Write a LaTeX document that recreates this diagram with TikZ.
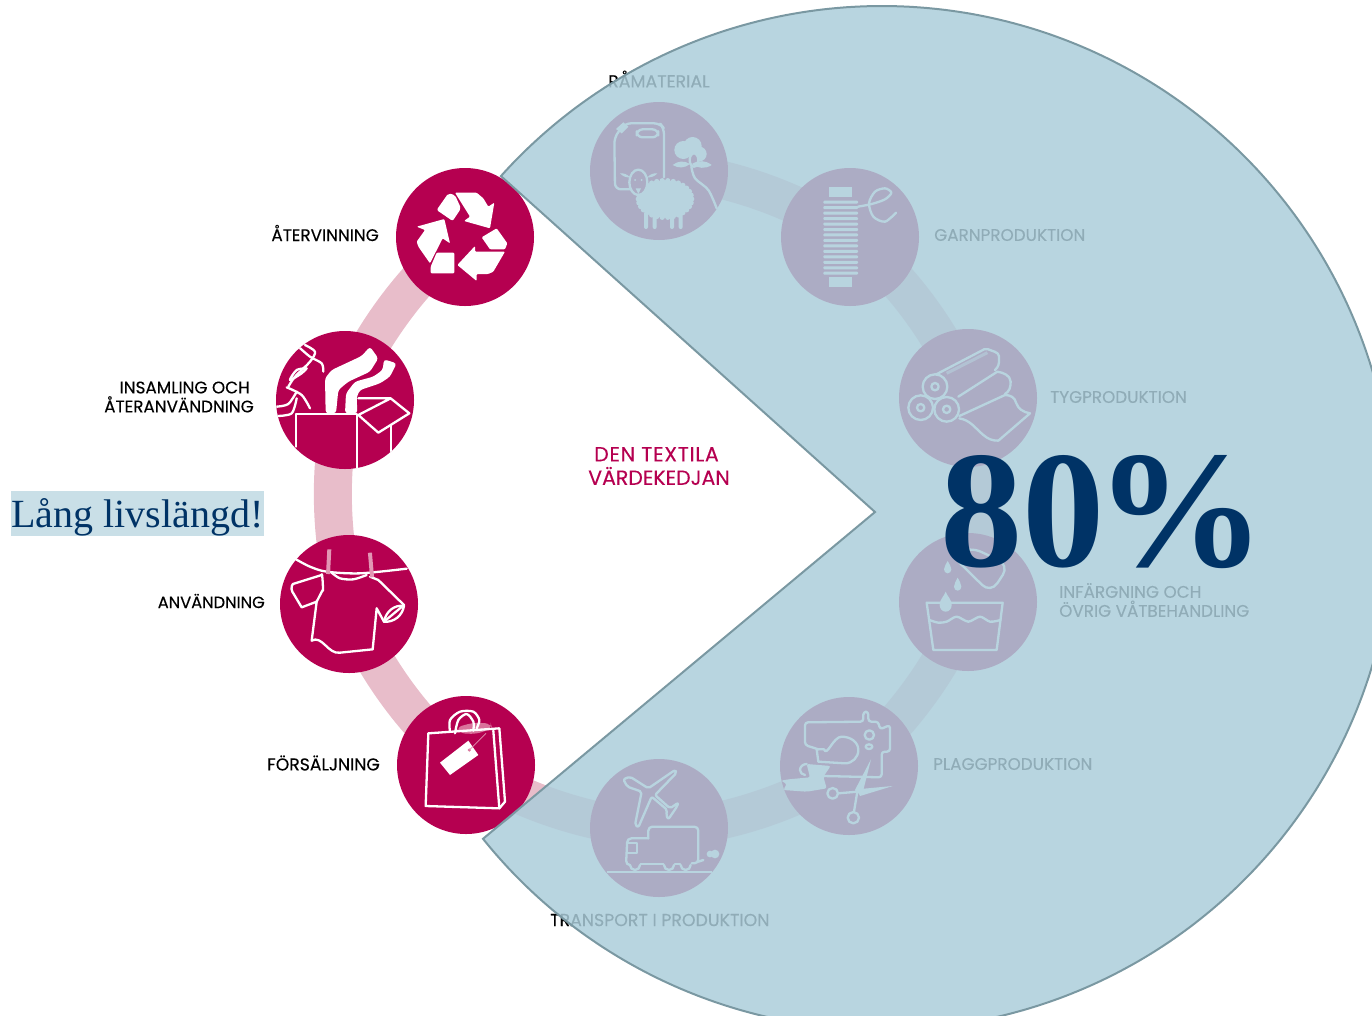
\documentclass[tikz,border=0pt]{standalone}
\usepackage{fontspec}
\setmainfont{Poppins}
\newfontfamily\lblfont{Poppins}[FakeBold=0.3]
\newfontfamily\timesfont{Liberation Serif}
\usetikzlibrary{backgrounds}
\definecolor{stagecol}{RGB}{181,0,80}
\definecolor{ringcol}{RGB}{232,189,202}
\definecolor{overlaycol}{RGB}{171,205,218}
\definecolor{edgecol}{RGB}{122,152,162}
\definecolor{navycol}{RGB}{0,51,102}
\definecolor{highlightcol}{RGB}{201,223,231}
\definecolor{pegcol}{RGB}{226,150,180}
\definecolor{tissuecol}{RGB}{217,115,155}
\tikzset{
  stage/.style={circle,fill=stagecol,minimum size=138pt,inner sep=0pt},
  ring/.style={draw=ringcol,line width=38pt,line cap=butt},
  lbl/.style={font=\lblfont\fontsize{16.8}{19}\selectfont,text=black,inner sep=0pt},
  iline/.style={draw=white,line width=2.3pt,line join=round,line cap=round},
  za/.style={shift={(260,150)},scale=0.33333},
  zb/.style={shift={(260,520)},scale=0.33333},
  zc/.style={shift={(570,60)},scale=0.33333},
  zd/.style={shift={(880,320)},scale=0.33333},
  ze/.style={shift={(570,690)},scale=0.33333},
}
\begin{document}
\begin{tikzpicture}[x=1pt,y=-1pt]
\useasboundingbox (0,0) rectangle (1372,1015);
\clip (0,0) rectangle (1372,1015);
% stages
\node[stage] (aterv) at (465,237) {};
\node[stage] (insam) at (345,400) {};
\node[stage] (anvand) at (349,604) {};
\node[stage] (forsal) at (466,765) {};
\node[stage] (transp) at (659,828) {};
\node[stage] (plagg) at (849,766) {};
\node[stage] (infarg) at (968,602) {};
\node[stage] (tyg) at (968,398) {};
\node[stage] (garn) at (850,237) {};
\node[stage] (ramat) at (659,171) {};
% ring
\begin{scope}[on background layer,looseness=.76]
\draw[ring] (aterv.center) to[bend right=18] (insam.center);
\draw[ring] (insam.center) to[bend right=18] (anvand.center);
\draw[ring] (anvand.center) to[bend right=18] (forsal.center);
\draw[ring] (forsal.center) to[bend right=18] (transp.center);
\draw[ring] (transp.center) to[bend right=18] (plagg.center);
\draw[ring] (plagg.center) to[bend right=18] (infarg.center);
\draw[ring] (infarg.center) to[bend right=18] (tyg.center);
\draw[ring] (tyg.center) to[bend right=18] (garn.center);
\draw[ring] (garn.center) to[bend right=18] (ramat.center);
\end{scope}
% recycling
\begin{scope}[za]
\fill[white,rounded corners=2pt] (565,130)--(585,135)--(603,175)--(578,213)--(530,180)--cycle;
\fill[white,rounded corners=1pt] (585,128)--(650,128)--(670,145)--(685,170)--(703,158)--(690,235)--(612,213)--(630,200)--cycle;
\fill[white,rounded corners=1pt] (470,230)--(553,207)--(570,280)--(548,265)--(510,340)--(475,290)--(470,275)--(495,240)--cycle;
\fill[white,rounded corners=1pt] (530,308)--(583,308)--(583,370)--(512,370)--(512,350)--cycle;
\fill[white,rounded corners=1pt] (710,235)--(742,280)--(735,298)--(690,298)--(665,262)--cycle;
\fill[white,rounded corners=1pt] (645,305)--(735,305)--(700,365)--(685,372)--(650,372)--(650,393)--(592,345)--(645,288)--cycle;
\end{scope}
% collection box
\begin{scope}
\clip (insam) circle (69);
\begin{scope}[za]
\draw[iline] plot[smooth] coordinates {(115,590) (150,620) (185,640) (190,665)};
\draw[iline] plot[smooth] coordinates {(135,585) (165,605) (150,635) (105,680) (85,710)};
\draw[iline] plot[smooth] coordinates {(140,655) (110,660) (90,690) (125,670) (140,655)};
\draw[iline] plot[smooth] coordinates {(50,770) (85,762) (110,725)};
\draw[iline] plot[smooth] coordinates {(80,712) (125,735) (150,775)};
\draw[iline] plot[smooth] coordinates {(52,798) (95,790) (110,745)};
\fill[white,rounded corners=3pt] (197,790)--(195,685)--(215,660)--(305,618)--(330,590)--(355,625)--(330,665)--(265,695)--(235,720)--(228,790)--cycle;
\fill[white,rounded corners=3pt] (255,790)--(258,730)--(285,695)--(340,680)--(368,660)--(372,628)--(410,640)--(390,680)--(360,700)--(300,720)--(290,740)--(292,790)--cycle;
\draw[iline] (108,890)--(108,793)--(290,793)--(290,960);
\draw[iline] (295,745)--(392,745)--(448,790)--(355,848)--(295,795)--(392,745);
\draw[iline] (392,825)--(392,910);
\end{scope}
\end{scope}
% shirt
\begin{scope}[zb]
\draw[iline] plot[smooth] coordinates {(108,118) (150,140) (200,155) (300,160) (440,146)};
\draw[iline] (185,165)--(105,190) to[out=170,in=120] (97,215) -- (125,262)--(170,245)--(155,362) to[out=30,in=190] (240,398) -- (338,388)--(350,265)--(372,305)--(432,255)--(355,180)--(330,170);
\draw[iline] plot[smooth] coordinates {(215,158) (240,175) (280,178) (320,165)};
\draw[iline] (185,165) to[out=85,in=-80] (188,210) --(170,245);
\draw[iline] (372,305) to[out=-5,in=-100] (432,258) to[out=170,in=80] (372,305);
\fill[pegcol,rotate around={-3:(205,125)}] (200,88) rectangle (212,162);
\fill[pegcol,rotate around={5:(332,135)}] (327,98) rectangle (339,172);
\end{scope}
% bag
\begin{scope}[zb]
\fill[tissuecol,rounded corners=6pt] (588,622)--(640,608)--(692,610)--(697,625)--(650,642)--(598,640)--cycle;
\draw[iline] (505,640)--(718,625)--(735,845)--(718,865)--(497,858)--cycle;
\draw[iline] (700,632)--(718,865);
\draw[iline] plot[smooth] coordinates {(570,635) (570,600) (600,575) (640,575) (658,600) (650,625)};
\draw[iline] plot[smooth] coordinates {(585,640) (595,600) (620,582) (640,605) (640,632)};
\fill[white] (540,728)--(625,662)--(655,705)--(570,765)--cycle;
\fill[tissuecol] (628,690) circle (5);
\draw[pegcol,line width=.7pt] (628,690)--(678,640);
\end{scope}
% raw material
\begin{scope}[zc]
\draw[iline,rounded corners=6pt] (185,388)--(135,388)--(133,232)--(165,190)--(270,190)--(282,205)--(282,352);
\fill[white] (138,207)--(160,187)--(175,200)--(155,220)--cycle;
\draw[iline,rounded corners=6pt] (200,208) rectangle (265,232);
\fill[white] (285,417) ellipse (80 and 55);
\foreach \a in {0,12,...,348} \fill[white] ({285+80*cos(\a)},{417+55*sin(\a)}) circle (8);
\foreach \lx in {222,248,300,326} \fill[white,rounded corners=2pt] (\lx,455) rectangle ({\lx+12},507);
\fill[stagecol] (205,367) ellipse (27 and 38);
\draw[iline] (205,367) ellipse (27 and 38);
\fill[white] (195,360) circle (3); \fill[white] (215,360) circle (3);
\fill[white] (197,385)--(213,385)--(205,402)--cycle;
\fill[white] (150,340) to[bend left=25] (180,352) to[bend left=25] cycle;
\fill[white] (232,352) to[bend left=25] (262,340) to[bend left=25] cycle;
\fill[white] (340,270) circle (27); \fill[white] (368,258) circle (27); \fill[white] (388,282) circle (22);
\fill[stagecol] (372,300) ellipse (13 and 20);
\draw[iline] (372,300) ellipse (13 and 20);
\fill[white] (308,315) to[bend left=35] (360,312) to[bend left=35] cycle;
\fill[white] (366,312) to[bend left=35] (425,315) to[bend left=35] cycle;
\draw[iline] plot[smooth] coordinates {(364,320) (375,355) (415,390) (440,445)};
\end{scope}
% spool
\begin{scope}[zc]
\fill[white] (778,380) rectangle (847,412);
\fill[white] (778,650) rectangle (847,682);
\foreach \n in {0,...,13} \fill[white,rounded corners=1pt] (760,{422+16.4*\n}) rectangle (864,{431+16.4*\n});
\draw[iline] plot[smooth] coordinates {(864,440) (905,432) (945,418) (964,398) (945,385) (915,395) (897,430) (910,470) (945,485) (978,458)};
\end{scope}
% fabric rolls
\begin{scope}[zd]
\draw[iline,rounded corners=2pt] (165,165)--(318,85) to[out=-25,in=90] (357,115) to[out=-90,in=40] (345,150);
\draw[iline] (235,230)--(352,155) to[out=-10,in=95] (392,185) to[out=-90,in=30] (375,222);
\draw[iline] (238,288)--(375,225) to[out=0,in=100] (408,248) to[out=-70,in=170] (450,280) -- (355,362) to[out=180,in=-40] (310,345) to[out=140,in=-10] (238,295);
\draw[white,opacity=.55,line width=3pt] (200,160)--(322,98);
\foreach \c/\d in {165/200,122/263,200/268}{
 \fill[stagecol] (\c,\d) circle (37);
 \draw[iline] (\c,\d) circle (37);
 \draw[iline] (\c,\d) circle (11);
}
\end{scope}
% dye bath
\begin{scope}[zd]
\draw[iline] (140,848)--(368,848)--(350,990)--(160,990)--cycle;
\draw[iline] plot[smooth] coordinates {(148,900) (175,908) (200,905) (230,890) (265,905) (300,890) (330,905) (362,900)};
\fill[white] (197,815) to[out=-110,in=90] (179,855) to[out=-90,in=180] (197,875) to[out=0,in=-90] (215,855) to[out=90,in=-70] cycle;
\fill[white] (203,723) to[out=-110,in=90] (192,748) to[out=-90,in=180] (203,760) to[out=0,in=-90] (214,748) to[out=90,in=-70] cycle;
\fill[white] (233,773) to[out=-110,in=90] (222,800) to[out=-90,in=180] (233,812) to[out=0,in=-90] (244,800) to[out=90,in=-70] cycle;
\draw[iline,rounded corners=12pt] (215,705)--(332,820)--(388,735)--(270,680)--cycle;
\end{scope}
% sewing machine
\begin{scope}[ze]
\draw[iline,rounded corners=3pt] (745,178)--(705,165)--(705,97)--(880,95)--(880,65)--(895,65)--(895,95)--(925,95)--(930,118)--(960,105)--(960,185)--(935,185)--(935,262)--(760,258);
\draw[iline] (745,178)--(762,178) to[out=-70,in=180] (815,140) to[out=0,in=90] (865,180) to[out=-90,in=0] (825,220) -- (745,215)--(740,178);
\draw[iline] (898,135) circle (14);
\draw[iline] (897,170) ellipse (10 and 7);
\fill[white,rounded corners=2pt] (710,222)--(782,228)--(760,260)--(770,295)--(710,305)--(640,300)--(650,282)--(633,272)--(655,268)--(720,262)--cycle;
\draw[iline] (710,222) to[out=180,in=90] (690,240) to[out=-90,in=170] (705,255);
\fill[white] (903,208)--(880,300)--(862,312)--(855,300)--cycle;
\fill[white] (968,288)--(870,318)--(860,298)--cycle;
\draw[iline] (862,305)--(805,310);
\draw[iline] (862,305)--(852,365);
\draw[iline] (788,310) circle (16);
\draw[iline] (850,383) circle (17);
\end{scope}
% plane and truck
\begin{scope}[ze]
\draw[iline,rounded corners=2pt] (160,268)--(180,260)--(235,295)--(315,240)--(320,248)--(255,315)--(300,355)--(325,338)--(322,348)--(295,388)--(288,375)--(292,360)--(245,320)--(205,412)--(195,405)--(215,305)--(172,290)--cycle;
\draw[iline,rounded corners=4pt] (235,445)--(235,410)--(385,410)--(385,520)--(365,520);
\draw[iline,rounded corners=4pt] (235,445)--(172,445)--(168,525)--(180,525);
\draw[iline] (172,460)--(200,460)--(200,490)--(172,490);
\draw[iline] (212,522)--(280,522); \draw[iline] (315,522)--(330,522);
\draw[iline] (180,525) arc[start angle=180,end angle=0,radius=15];
\draw[iline] (282,525) arc[start angle=180,end angle=0,radius=15];
\draw[iline] (332,525) arc[start angle=180,end angle=0,radius=15];
\draw[iline] (385,515)--(400,510);
\fill[white] (420,492) circle (10); \fill[white] (435,492) circle (13);
\draw[white,line width=2pt] (110,547)--(425,547);
\end{scope}
% labels
\node[lbl,anchor=east] (lab1) at (379,233) {ÅTERVINNING};
\node[lbl,anchor=east,align=right] (lab2) at (254,397) {INSAMLING OCH\hspace*{4pt}\\ÅTERANVÄNDNING};
\node[lbl,anchor=east,font=\lblfont\fontsize{16.3}{19}\selectfont] (lab3) at (265,601) {ANVÄNDNING};
\node[lbl,anchor=east,font=\lblfont\fontsize{17.2}{19}\selectfont] (lab4) at (380,763) {FÖRSÄLJNING};
\node[lbl,anchor=west,font=\lblfont\fontsize{17.4}{19}\selectfont] (lab5) at (608,79) {RÅMATERIAL};
\node[lbl,anchor=west] (lab6) at (934,235) {GARNPRODUKTION};
\node[lbl,anchor=west] (lab7) at (1050,397) {TYGPRODUKTION};
\node[lbl,anchor=west,align=left] (lab8) at (1059,600) {INFÄRGNING OCH\\ÖVRIG VÅTBEHANDLING};
\node[lbl,anchor=west] (lab9) at (933,764) {PLAGGPRODUKTION};
\node[lbl,anchor=west,font=\lblfont\fontsize{17.35}{19}\selectfont] (lab10) at (550,920) {TRANSPORT I PRODUKTION};
\node[font=\lblfont\fontsize{20.5}{23.5}\selectfont,text=stagecol,align=center,inner sep=0pt] (title) at (659,466) {\addfontfeature{LetterSpace=3.5}DEN TEXTILA\hspace*{5pt}\\VÄRDEKEDJAN};
% highlight
\node[fill=highlightcol,text=navycol,font=\timesfont\fontsize{40}{42}\selectfont,minimum width=253pt,minimum height=45pt,inner sep=0pt] (lang) at (137.5,513.5) {\raisebox{-14pt}[0pt][0pt]{Lång livslängd!}};
% overlay
\fill[overlaycol,fill opacity=.845] (875,512) -- plot[domain=-138.1:141.2,samples=400] ({882+512*cos(\x)},{518+512*sin(\x)}) -- cycle;
\draw[edgecol,line width=2pt,line join=miter] (875,512) -- plot[domain=-138.1:141.2,samples=400] ({882+512*cos(\x)},{518+512*sin(\x)}) -- cycle;
% big number
\node[text=navycol,inner sep=0pt,anchor=base west] (pct) at (940,566) {\raisebox{0pt}[113pt][0pt]{\timesfont\bfseries\fontsize{167}{167}\selectfont\scalebox{.985}[1]{80}\hspace{-9pt}\scalebox{1.02}[1]{\%}}};
\end{tikzpicture}
\end{document}
